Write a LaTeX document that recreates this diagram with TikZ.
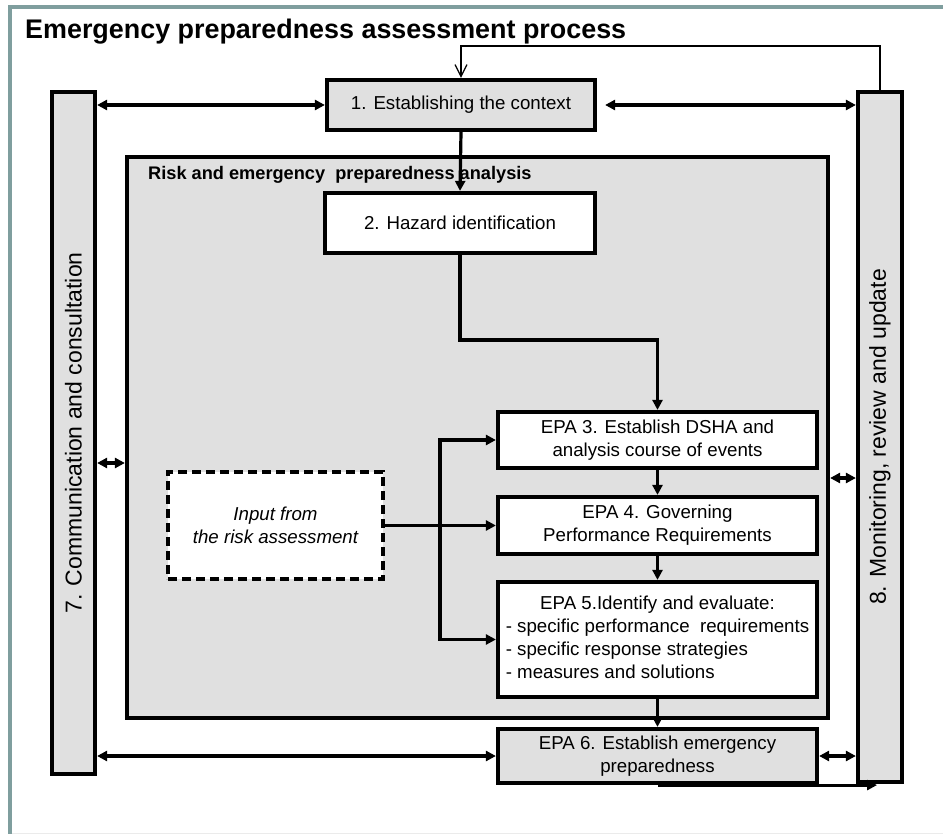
\documentclass[tikz,border=0pt]{standalone}
\usepackage{fontspec}
\setmainfont{Liberation Sans}
\usetikzlibrary{arrows.meta,calc}
\definecolor{framecol}{HTML}{7F9E9E}
\definecolor{panel}{HTML}{E0E0E0}
\newcommand{\boxfont}{\fontsize{18.7}{23}\selectfont}
\newcommand{\barfont}{\fontsize{23}{27}\selectfont}
\begin{document}
\begin{tikzpicture}[x=1pt,y=-1pt,
  box/.style={draw, line width=4.2pt, fill=white, inner sep=0pt, align=center, font=\boxfont},
  graybox/.style={box, fill=panel},
  sidebar/.style={draw, line width=4.2pt, fill=panel, inner sep=0pt},
  ln/.style={line width=3.2pt},
  arr/.style={ln, -{Triangle[length=10pt,width=10pt]}},
  dbl/.style={ln, {Triangle[length=10pt,width=10pt]}-{Triangle[length=10pt,width=10pt]}},
  fb/.style={line width=1.2pt, -{Straight Barb[length=12pt,width=12pt,line width=1.2pt]}}
]
\useasboundingbox (0,0) rectangle (943,834);
% page frame
\draw[framecol, line width=4pt] (10,834) -- (10,7) -- (943,7);
\draw[black!8, line width=1pt] (12,833) -- (943,833);

% title
\node[anchor=base west, inner sep=0pt, font=\bfseries\fontsize{26.9}{30}\selectfont] (title) at (25,39)
  {Emergency preparedness assessment process};

% analysis panel
\node[sidebar, minimum width=701pt, minimum height=561pt] (big) at (477.5,437.5) {};
\node[anchor=base west, inner sep=0pt, font=\bfseries\fontsize{18.2}{21}\selectfont] (biglabel) at (148,180)
  {Risk and emergency\ \ preparedness analysis};

% side bars
\node[sidebar, minimum width=43pt, minimum height=682pt] (lbar) at (73.5,433) {};
\node[rotate=90, font=\barfont, inner sep=0pt] (ltext) at (lbar.center) {7. Communication and consultation};
\node[sidebar, minimum width=44pt, minimum height=690pt] (rbar) at (880,437) {};
\node[rotate=90, font=\barfont, inner sep=0pt] (rtext) at (rbar.center) {8. Monitoring, review and update};

% process steps
\node[graybox, minimum width=268pt, minimum height=50pt] (box1) at (461,105) {1. Establishing the context};
\node[box, minimum width=270pt, minimum height=60pt] (box2) at (460,223) {2. Hazard identification};
\node[box, minimum width=319pt, minimum height=56pt] (epa3) at (657.5,440) {EPA 3. Establish DSHA and\\analysis course of events};
\node[box, minimum width=319pt, minimum height=57pt] (epa4) at (657.5,525.5) {EPA 4. Governing\\Performance Requirements};
\node[box, minimum width=319pt, minimum height=115pt] (epa5) at (657.5,639.5)
  {\begin{tabular}{@{}l@{}}\multicolumn{1}{c}{EPA 5.Identify and evaluate:}\\
   - specific performance\ \ requirements\\
   - specific response strategies\\
   - measures and solutions\end{tabular}};
\node[graybox, minimum width=319pt, minimum height=54pt] (epa6) at (657.5,756) {EPA 6. Establish emergency\\preparedness};
\node[box, dashed, dash pattern=on 9pt off 5pt, minimum width=215pt, minimum height=107pt,
      font=\boxfont\itshape] (input) at (275.5,525.5) {Input from\\the risk assessment};

% helper points
\coordinate (fbturn) at (461,46);
\coordinate (split) at (440,525.5);
\coordinate (exit) at (877,0);

% connectors
\draw[fb] (rbar.north) |- (fbturn) -- (box1.north);
\draw[dbl] (lbar.east |- box1.west) -- (box1.west);
\draw[dbl] ($(box1.east)+(8,0)$) -- (rbar.west |- box1.east);
\draw[arr] (box1.south) -- (box2.north);
\draw[arr] (box2.south) |- (560,340) -| (epa3.north);
\draw[arr] (epa3.south) -- (epa4.north);
\draw[arr] (epa4.south) -- (epa5.north);
\draw[arr] (epa5.south) -- (epa6.north);
\draw[arr] (input.east) -- (epa4.west);
\draw[arr] (split) |- (epa3.west);
\draw[arr] (split) |- (epa5.west);
\draw[dbl] (lbar.east |- 0,463) -- (big.west |- 0,463);
\draw[dbl] (big.east |- 0,478) -- (rbar.west |- 0,478);
\draw[dbl] (lbar.east |- epa6.west) -- (epa6.west);
\draw[dbl] (epa6.east) -- (rbar.west |- epa6.east);
\draw[arr] (epa6.south) -- (epa6.south -| exit);
\end{tikzpicture}
\end{document}
